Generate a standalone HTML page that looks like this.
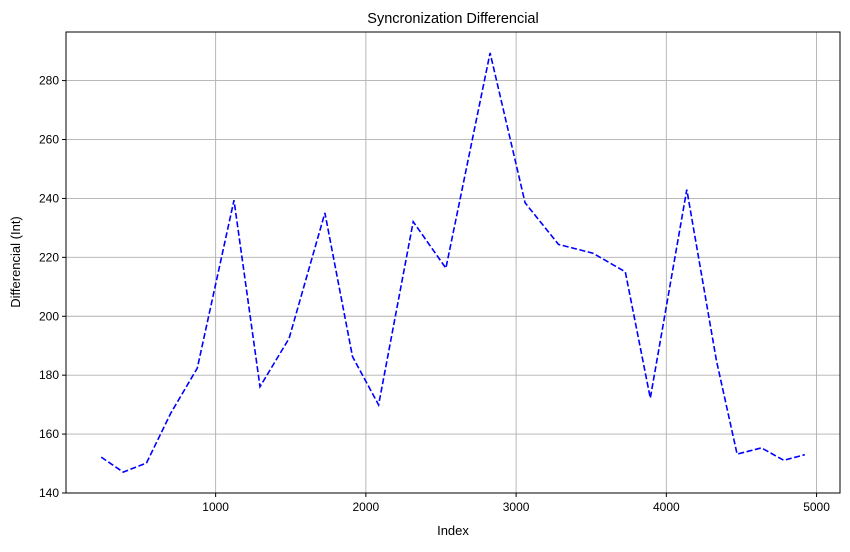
<!DOCTYPE html>
<html><head><meta charset="utf-8"><style>
body{margin:0;background:#fff;}
svg text{font-family:"Liberation Sans","DejaVu Sans",sans-serif;}
</style></head><body>
<svg id="chart" width="850" height="547" xmlns="http://www.w3.org/2000/svg">
<g id="grid"></g>
<g id="ticks"></g>
<path id="line" fill="none" stroke="#0000ff" stroke-width="1.6" stroke-dasharray="6,2.6"/>
<rect x="66" y="32" width="774" height="461" fill="none" stroke="#000" stroke-width="1"/>
<text x="453" y="23" text-anchor="middle" font-size="14.5">Syncronization Differencial</text>
<text x="453" y="535" text-anchor="middle" font-size="13">Index</text>
<text x="20" y="262" text-anchor="middle" font-size="13" transform="rotate(-90 20 262)">Differencial (Int)</text>
</svg>
<script>
const xValues=[238,385,540,700,878,1122,1295,1489,1727,1911,2085,2315,2533,2827,3060,3282,3511,3727,3893,4136,4333,4471,4633,4782,4922];
const yValues=[152.2,147.1,150.2,167,182.4,239.4,176.1,192.5,235.1,186.3,169.9,232.1,216.3,289.4,238.5,224.4,221.4,215.1,172.2,243.0,185,153.2,155.3,151.1,153.0];
const xTicks=[1000,2000,3000,4000,5000];
const yTicks=[140,160,180,200,220,240,260,280];
const L=66,R=840,T=32,B=493;
const xMin=4,xMax=5156,yMin=140,yMax=296.5;
function sx(v){return L+(v-xMin)/(xMax-xMin)*(R-L);}
function sy(v){return B-(v-yMin)/(yMax-yMin)*(B-T);}
const NS="http://www.w3.org/2000/svg";
const grid=document.getElementById('grid'),ticks=document.getElementById('ticks');
function mk(tag,attrs,parent){const e=document.createElementNS(NS,tag);for(const k in attrs)e.setAttribute(k,attrs[k]);parent.appendChild(e);return e;}
xTicks.forEach(v=>{const x=sx(v);
const g=mk('line',{x1:x,x2:x,y1:T,y2:B,stroke:'#b0b0b0','stroke-width':0.9},grid);


const t=mk('line',{x1:x,x2:x,y1:B,y2:B+4,stroke:'#000'},ticks);


const l=mk('text',{x:x,y:B+18,'text-anchor':'middle','font-size':12},ticks);l.textContent=v;


});
yTicks.forEach(v=>{const y=sy(v);
const g=mk('line',{x1:L,x2:R,y1:y,y2:y,stroke:'#b0b0b0','stroke-width':0.9},grid);


const t=mk('line',{x1:L-4,x2:L,y1:y,y2:y,stroke:'#000'},ticks);


const l=mk('text',{x:L-7,y:y+4,'text-anchor':'end','font-size':12},ticks);l.textContent=v;


});
document.getElementById('line').setAttribute('d',xValues.map((v,i)=>(i?'L':'M')+sx(v).toFixed(1)+','+sy(yValues[i]).toFixed(1)).join(' '));
</script>
</body></html>
